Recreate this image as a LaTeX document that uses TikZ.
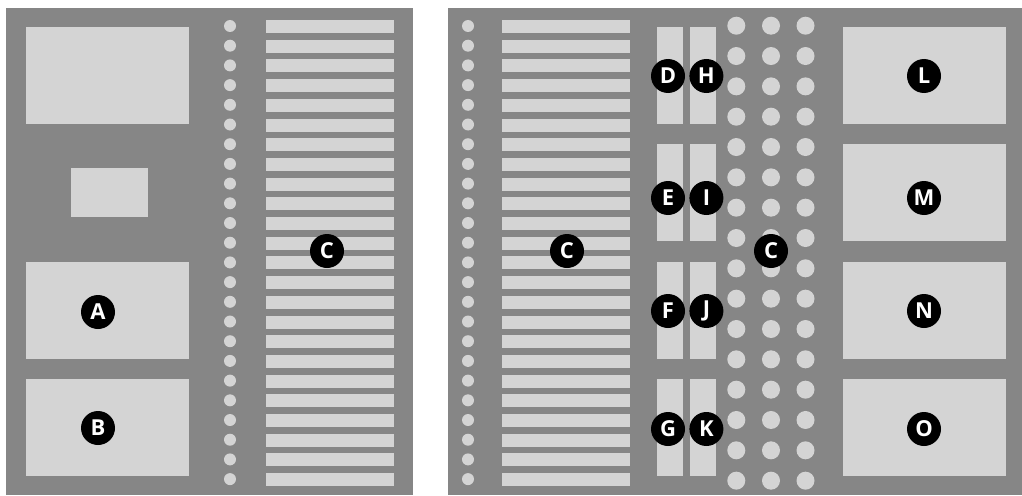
\documentclass[tikz,border=0pt]{standalone}
\usepackage{fontspec}
\setsansfont{Open Sans}
\usepackage{xcolor}
\usepackage{tikz}
\usetikzlibrary{positioning}

\definecolor{floorgray}{RGB}{134,134,134}
\definecolor{slabgray}{RGB}{212,212,212}

\begin{document}
\begin{tikzpicture}[
  x=1pt, y=-1pt,
  node distance=4pt,
  tag/.style={circle, fill=black, text=white, minimum size=34pt, inner sep=0pt, font=\sffamily\bfseries\fontsize{22}{22}\selectfont},
  slab/.style={fill=slabgray},
  floor/.style={fill=floorgray}
]
  \useasboundingbox (0,0) rectangle (1022,495);

  % Panels
  \fill[floor] (6,8) rectangle (413,495);
  \fill[floor] (448,8) rectangle (1022,495);

  % Left panel blocks
  \fill[slab] (26,27) rectangle (189,124);
  \fill[slab] (71,168) rectangle (148,217);
  \fill[slab] (26,262) rectangle (189,359);
  \fill[slab] (26,379) rectangle (189,476);

  % Dot columns and stripes
  \foreach \k in {0,...,23} {
    \fill[slab] (230,26+19.7*\k) circle[radius=6];
    \fill[slab] (468,26+19.7*\k) circle[radius=6];
    \fill[slab] (266,20+19.7*\k) rectangle ++(128,13);
    \fill[slab] (502,20+19.7*\k) rectangle ++(128,13);
  }

  % Right panel blocks
  \foreach \y in {27,144,262,379} {
    \fill[slab] (657,\y) rectangle ++(26,97);
    \fill[slab] (690,\y) rectangle ++(26,97);
    \fill[slab] (843,\y) rectangle ++(163,97);
  }

  % Dot grid
  \foreach \x in {736.3,771,805.5}
    \foreach \k in {0,...,15}
      \fill[slab] (\x,25.7+30.33*\k) circle[radius=9];

  % Tags
  \node[tag] (A) at (98,312) {A};
  \node[tag] (B) at (98,428) {B};
  \node[tag] (C1) at (327,251) {C};
  \node[tag] (C2) at (567,251) {C};
  \node[tag] (C3) at (771,251) {C};
  \node[tag] (D) at (668,76) {D};
  \node[tag] (E) at (668,198) {E};
  \node[tag] (F) at (668,311) {F};
  \node[tag] (G) at (668,429) {G};
  \node[tag, right=of D] (H) {H};
  \node[tag, right=of E] (I) {I};
  \node[tag, right=of F] (J) {J};
  \node[tag, right=of G] (K) {K};
  \node[tag] (L) at (924,76) {L};
  \node[tag] (M) at (924,198) {M};
  \node[tag] (N) at (924,311) {N};
  \node[tag] (O) at (924,429) {O};
\end{tikzpicture}
\end{document}
